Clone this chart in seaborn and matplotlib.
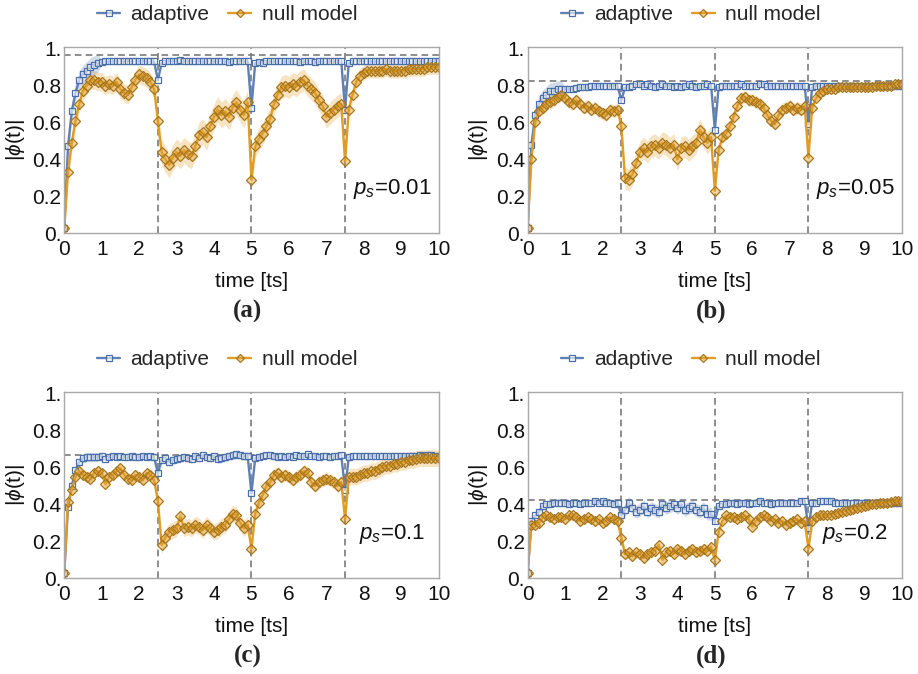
import numpy as np
import pandas as pd
import matplotlib
matplotlib.use("Agg")
import matplotlib.pyplot as plt
import seaborn as sns

# time axis of the simulation, one point per 0.1 ts
TIME = np.linspace(0, 10, 101)
SWITCH_TIMES = [2.5, 5.0, 7.5]
PANEL_TAGS = ['(a)', '(b)', '(c)', '(d)']
PS_VALUES = ['0.01', '0.05', '0.1', '0.2']
STEADY = [0.967, 0.825, 0.667, 0.426]
YTICKS = [0, 0.2, 0.4, 0.6, 0.8, 1.0]
YTICKLABELS = ['0.', '0.2', '0.4', '0.6', '0.8', '1.']
XTICKS = list(range(11))

ADAPTIVE_A = [0.03, 0.47, 0.66, 0.76, 0.83, 0.86, 0.88, 0.90, 0.91, 0.92,
              0.925, 0.93, 0.93, 0.93, 0.935, 0.93, 0.93, 0.935, 0.93, 0.93,
              0.93, 0.935, 0.93, 0.93, 0.93, 0.83, 0.92, 0.93, 0.935, 0.935,
              0.93, 0.94, 0.93, 0.93, 0.935, 0.93, 0.935, 0.93, 0.93, 0.93,
              0.93, 0.93, 0.935, 0.93, 0.925, 0.935, 0.93, 0.935, 0.93, 0.93,
              0.68, 0.92, 0.925, 0.92, 0.93, 0.93, 0.93, 0.93, 0.93, 0.93,
              0.93, 0.93, 0.93, 0.925, 0.93, 0.93, 0.93, 0.925, 0.93, 0.93,
              0.93, 0.93, 0.93, 0.93, 0.93, 0.67, 0.92, 0.93, 0.935, 0.935,
              0.935, 0.935, 0.93, 0.93, 0.93, 0.93, 0.93, 0.93, 0.93, 0.93,
              0.93, 0.93, 0.93, 0.93, 0.93, 0.93, 0.93, 0.93, 0.93, 0.935, 0.935]
NULL_A = [0.03, 0.33, 0.49, 0.61, 0.70, 0.77, 0.80, 0.83, 0.83, 0.82,
          0.82, 0.80, 0.81, 0.80, 0.82, 0.78, 0.76, 0.75, 0.79, 0.83,
          0.86, 0.85, 0.84, 0.82, 0.78, 0.61, 0.44, 0.40, 0.37, 0.41,
          0.44, 0.42, 0.45, 0.43, 0.42, 0.47, 0.53, 0.55, 0.52, 0.58,
          0.63, 0.67, 0.64, 0.66, 0.63, 0.68, 0.71, 0.67, 0.64, 0.71,
          0.29, 0.47, 0.51, 0.54, 0.58, 0.62, 0.70, 0.75, 0.79, 0.80,
          0.79, 0.81, 0.80, 0.82, 0.83, 0.80, 0.78, 0.76, 0.72, 0.69,
          0.63, 0.65, 0.67, 0.69, 0.70, 0.39, 0.67, 0.75, 0.82, 0.85,
          0.87, 0.88, 0.88, 0.88, 0.88, 0.88, 0.89, 0.88, 0.88, 0.88,
          0.88, 0.88, 0.89, 0.89, 0.89, 0.89, 0.89, 0.90, 0.90, 0.90, 0.90]

ADAPTIVE_B = [0.03, 0.48, 0.64, 0.70, 0.73, 0.75, 0.77, 0.77, 0.78, 0.78,
              0.78, 0.78, 0.78, 0.785, 0.79, 0.79, 0.79, 0.795, 0.80, 0.80,
              0.80, 0.80, 0.80, 0.80, 0.80, 0.72, 0.79, 0.79, 0.80, 0.81,
              0.81, 0.80, 0.81, 0.80, 0.79, 0.80, 0.81, 0.80, 0.80, 0.79,
              0.80, 0.79, 0.80, 0.81, 0.80, 0.79, 0.80, 0.80, 0.81, 0.80,
              0.56, 0.79, 0.80, 0.80, 0.80, 0.80, 0.80, 0.81, 0.80, 0.80,
              0.80, 0.80, 0.81, 0.81, 0.80, 0.80, 0.80, 0.80, 0.80, 0.80,
              0.80, 0.80, 0.80, 0.80, 0.80, 0.59, 0.79, 0.80, 0.80, 0.80,
              0.80, 0.80, 0.80, 0.80, 0.80, 0.80, 0.80, 0.80, 0.80, 0.80,
              0.80, 0.80, 0.80, 0.80, 0.80, 0.80, 0.80, 0.80, 0.80, 0.80, 0.80]
NULL_B = [0.03, 0.40, 0.60, 0.66, 0.68, 0.70, 0.71, 0.72, 0.74, 0.75,
          0.73, 0.71, 0.70, 0.72, 0.70, 0.68, 0.69, 0.67, 0.68, 0.66,
          0.65, 0.64, 0.67, 0.66, 0.67, 0.58, 0.30, 0.29, 0.32, 0.38,
          0.44, 0.46, 0.44, 0.47, 0.48, 0.46, 0.49, 0.48, 0.46, 0.48,
          0.40, 0.46, 0.47, 0.45, 0.47, 0.49, 0.56, 0.52, 0.49, 0.52,
          0.23, 0.45, 0.52, 0.54, 0.58, 0.63, 0.69, 0.73, 0.74, 0.72,
          0.72, 0.71, 0.70, 0.68, 0.64, 0.61, 0.59, 0.64, 0.67, 0.68,
          0.69, 0.67, 0.68, 0.67, 0.69, 0.41, 0.68, 0.73, 0.76, 0.77,
          0.78, 0.78, 0.78, 0.79, 0.79, 0.79, 0.79, 0.79, 0.79, 0.79,
          0.79, 0.79, 0.79, 0.80, 0.80, 0.80, 0.80, 0.80, 0.81, 0.81, 0.81]

ADAPTIVE_C = [0.03, 0.385, 0.50, 0.585, 0.63, 0.65, 0.655, 0.655, 0.655, 0.655,
              0.66, 0.645, 0.655, 0.66, 0.655, 0.66, 0.655, 0.655, 0.66, 0.655,
              0.655, 0.66, 0.655, 0.66, 0.655, 0.57, 0.64, 0.65, 0.63, 0.64,
              0.645, 0.65, 0.655, 0.65, 0.645, 0.66, 0.65, 0.665, 0.655, 0.65,
              0.66, 0.645, 0.65, 0.655, 0.66, 0.665, 0.67, 0.665, 0.66, 0.66,
              0.46, 0.65, 0.655, 0.66, 0.665, 0.665, 0.66, 0.655, 0.66, 0.655,
              0.66, 0.655, 0.665, 0.66, 0.66, 0.67, 0.66, 0.66, 0.655, 0.66,
              0.66, 0.655, 0.66, 0.66, 0.665, 0.48, 0.655, 0.66, 0.66, 0.66,
              0.66, 0.66, 0.66, 0.66, 0.66, 0.66, 0.66, 0.66, 0.66, 0.66,
              0.66, 0.66, 0.66, 0.66, 0.66, 0.665, 0.66, 0.665, 0.665, 0.66, 0.66]
NULL_C = [0.03, 0.415, 0.48, 0.55, 0.58, 0.56, 0.55, 0.54, 0.57, 0.58,
          0.57, 0.51, 0.55, 0.56, 0.58, 0.595, 0.56, 0.54, 0.53, 0.56,
          0.55, 0.53, 0.57, 0.56, 0.53, 0.42, 0.18, 0.22, 0.25, 0.26,
          0.27, 0.335, 0.27, 0.28, 0.27, 0.29, 0.28, 0.26, 0.29, 0.27,
          0.25, 0.26, 0.28, 0.29, 0.32, 0.35, 0.34, 0.30, 0.27, 0.29,
          0.16, 0.35, 0.41, 0.45, 0.50, 0.52, 0.56, 0.57, 0.55, 0.56,
          0.55, 0.53, 0.55, 0.56, 0.58, 0.57, 0.52, 0.50, 0.52, 0.53,
          0.54, 0.53, 0.52, 0.50, 0.52, 0.32, 0.55, 0.55, 0.55, 0.56,
          0.57, 0.57, 0.58, 0.58, 0.59, 0.60, 0.61, 0.61, 0.62, 0.62,
          0.63, 0.63, 0.64, 0.64, 0.645, 0.65, 0.65, 0.65, 0.65, 0.65, 0.65]

ADAPTIVE_D = [0.03, 0.31, 0.34, 0.36, 0.39, 0.40, 0.40, 0.41, 0.41, 0.41,
              0.41, 0.40, 0.41, 0.41, 0.40, 0.41, 0.41, 0.41, 0.42, 0.41,
              0.42, 0.41, 0.41, 0.40, 0.41, 0.34, 0.37, 0.41, 0.38, 0.36,
              0.37, 0.39, 0.36, 0.38, 0.37, 0.36, 0.40, 0.38, 0.39, 0.40,
              0.38, 0.40, 0.37, 0.38, 0.39, 0.37, 0.36, 0.38, 0.35, 0.35,
              0.31, 0.39, 0.40, 0.40, 0.41, 0.41, 0.40, 0.41, 0.41, 0.40,
              0.41, 0.41, 0.42, 0.41, 0.41, 0.40, 0.41, 0.41, 0.41, 0.41,
              0.41, 0.41, 0.41, 0.42, 0.42, 0.27, 0.41, 0.41, 0.42, 0.42,
              0.42, 0.42, 0.41, 0.41, 0.41, 0.41, 0.41, 0.41, 0.41, 0.41,
              0.41, 0.41, 0.41, 0.41, 0.41, 0.41, 0.41, 0.41, 0.41, 0.41, 0.41]
NULL_D = [0.03, 0.29, 0.29, 0.30, 0.33, 0.34, 0.33, 0.32, 0.33, 0.33,
          0.32, 0.34, 0.34, 0.33, 0.31, 0.32, 0.33, 0.32, 0.31, 0.32,
          0.30, 0.31, 0.33, 0.32, 0.31, 0.22, 0.13, 0.14, 0.12, 0.14,
          0.13, 0.11, 0.13, 0.14, 0.15, 0.18, 0.10, 0.14, 0.15, 0.13,
          0.16, 0.15, 0.13, 0.15, 0.16, 0.14, 0.15, 0.16, 0.15, 0.17,
          0.10, 0.25, 0.31, 0.34, 0.33, 0.33, 0.32, 0.33, 0.34, 0.32,
          0.28, 0.31, 0.33, 0.34, 0.33, 0.31, 0.32, 0.30, 0.31, 0.29,
          0.30, 0.31, 0.32, 0.30, 0.31, 0.16, 0.31, 0.33, 0.34, 0.34,
          0.34, 0.345, 0.35, 0.355, 0.36, 0.365, 0.37, 0.375, 0.38, 0.385,
          0.39, 0.395, 0.40, 0.40, 0.41, 0.41, 0.41, 0.415, 0.42, 0.42, 0.42]

# half width of the shaded band in each of the four phases (between switches)
BAND_ADAPTIVE = [[0.010, 0.010, 0.006, 0.006],
                 [0.012, 0.015, 0.010, 0.008],
                 [0.012, 0.022, 0.012, 0.008],
                 [0.015, 0.035, 0.015, 0.010]]
# extra width of the adaptive band during the initial rise (t < 1)
RAMP_ADAPTIVE = [0.050, 0.045, 0.025, 0.020]
BAND_NULL = [[0.050, 0.070, 0.060, 0.040],
             [0.035, 0.060, 0.035, 0.020],
             [0.030, 0.045, 0.035, 0.045],
             [0.025, 0.030, 0.025, 0.020]]

ADAPTIVE = [ADAPTIVE_A, ADAPTIVE_B, ADAPTIVE_C, ADAPTIVE_D]
NULL = [NULL_A, NULL_B, NULL_C, NULL_D]

BLUE = '#5E81B5'
ORANGE = '#E19C24'
GREY = '#7a7a7a'

sns.set_theme(style='white')
plt.rcParams['font.family'] = ['Liberation Sans', 'DejaVu Sans']
plt.rcParams['mathtext.fontset'] = 'custom'
plt.rcParams['mathtext.rm'] = 'Liberation Sans'
plt.rcParams['mathtext.it'] = 'Liberation Sans:italic'

fig = plt.figure(figsize=(9.18, 6.74), dpi=100)
positions = [[0.0700, 0.6538, 0.4078, 0.2769],
             [0.5748, 0.6538, 0.4078, 0.2769],
             [0.0700, 0.1420, 0.4078, 0.2769],
             [0.5748, 0.1420, 0.4078, 0.2769]]


def band_width(widths, ramp):
    phase = np.searchsorted(SWITCH_TIMES, TIME + 1e-9, side='right')
    w = np.array(widths)[phase]
    if ramp:
        w = np.where((TIME > 0) & (TIME < 1.0), np.maximum(w, ramp), w)
    return w


for i in range(4):
    ax = fig.add_axes(positions[i])
    ada = np.array(ADAPTIVE[i])
    nul = np.array(NULL[i])
    df = pd.DataFrame({'time': TIME, 'adaptive': ada, 'null model': nul})

    w_ada = band_width(BAND_ADAPTIVE[i], RAMP_ADAPTIVE[i])
    w_nul = band_width(BAND_NULL[i], 0)
    ax.fill_between(TIME, nul - w_nul, nul + w_nul, color=ORANGE, alpha=0.28, lw=0)
    ax.fill_between(TIME, ada - w_ada, ada + w_ada, color=BLUE, alpha=0.28, lw=0)

    for t in SWITCH_TIMES:
        ax.axvline(t, color=GREY, lw=1.2, dashes=(4, 2.5), zorder=1)
    ax.axhline(STEADY[i], color=GREY, lw=1.2, dashes=(4, 2.5), zorder=1)

    sns.lineplot(data=df, x='time', y='adaptive', ax=ax, color=BLUE, lw=1.7,
                 marker='s', markersize=5, markerfacecolor=(1, 1, 1, 0.6),
                 markeredgecolor='#4a6fa8', markeredgewidth=0.9,
                 errorbar=None, label='adaptive')
    sns.lineplot(data=df, x='time', y='null model', ax=ax, color=ORANGE, lw=1.7,
                 marker='D', markersize=5.5, markerfacecolor=(0.88, 0.61, 0.14, 0.4),
                 markeredgecolor='#a8761c', markeredgewidth=0.9,
                 errorbar=None, label='null model')

    ax.set_xlim(0, 10)
    ax.set_ylim(0, 1.01)
    ax.set_xticks(XTICKS)
    ax.set_yticks(YTICKS)
    ax.set_yticklabels(YTICKLABELS)
    ax.tick_params(axis='both', direction='in', length=4, width=0.8,
                   color='#999999', labelsize=15, labelcolor='#111111')
    ax.tick_params(axis='x', pad=5)
    ax.tick_params(axis='y', pad=2)
    for sp in ax.spines.values():
        sp.set_color('#a8a8a8')
        sp.set_linewidth(1.0)

    ax.set_xlabel('time [ts]', fontsize=15, color='#111111')
    ax.xaxis.set_label_coords(0.5, -0.205)
    ax.set_ylabel(r'|$\phi$(t)|', fontsize=15, color='#111111')
    ax.yaxis.set_label_coords(-0.10, 0.5)

    ax.text(8.75, 0.24, r'$p_s$=' + PS_VALUES[i], fontsize=16, ha='center',
            va='center', color='#111111')
    ax.text(0.49, -0.42, PANEL_TAGS[i], transform=ax.transAxes, fontsize=18,
            fontweight='bold', family='Liberation Serif', ha='center', va='center')

    ax.legend(loc='center', bbox_to_anchor=(0.435, 1.17), ncol=2, frameon=False,
              fontsize=15, handlelength=1.1, handletextpad=0.5, columnspacing=0.9,
              markerscale=0.75, borderaxespad=0)

fig.savefig('out.png', dpi=100)
plt.close(fig)
